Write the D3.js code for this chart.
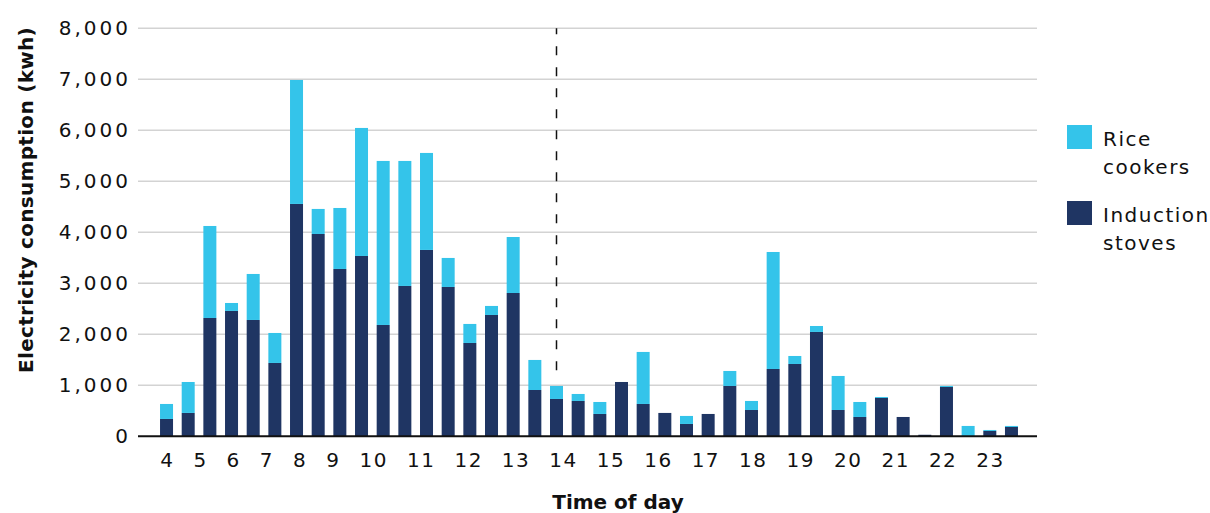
<!DOCTYPE html>
<html>
<head>
<meta charset="utf-8">
<script src="https://cdn.jsdelivr.net/npm/d3@7"></script>
<style>
  html, body { margin: 0; padding: 0; background: #fff; }
  svg { display: block; }
</style>
</head>
<body>
<script>
// ---- DATA ----
const times = ["4:00","4:30","5:00","5:30","6:00","6:30","7:00","7:30","8:00","8:30",
  "9:00","9:30","10:00","10:30","11:00","11:30","12:00","12:30","13:00","13:30",
  "14:00","14:30","15:00","15:30","16:00","16:30","17:00","17:30","18:00","18:30",
  "19:00","19:30","20:00","20:30","21:00","21:30","22:00","22:30","23:00","23:30"];
const inductionStoves = [340,458,2320,2458,2281,1438,4556,3967,3281,3536,
  2183,2948,3654,2928,1830,2379,2810,908,732,693,
  438,1065,634,458,242,438,987,516,1320,1418,
  2046,516,379,752,379,30,967,0,105,183];
const riceCookers = [294,607,1804,156,902,588,2431,491,1196,2510,
  3216,2451,1902,569,373,177,1098,589,255,137,
  235,0,1020,0,157,0,294,177,2294,157,
  117,667,294,19,0,0,20,203,19,20];
const hourLabels = ["4","5","6","7","8","9","10","11","12","13","14","15","16","17","18","19","20","21","22","23"];
const yTicks = [0,1000,2000,3000,4000,5000,6000,7000,8000];
const seriesNames = ["Rice cookers", "Induction stoves"];
const dividerTime = "13:00";
const dividerBottomValue = 1150;

// ---- CHART ----
const W = 1210, H = 513;
const colors = { "Induction stoves": "#1F3563", "Rice cookers": "#34C4EA" };
const svg = d3.select("body").append("svg").attr("width", W).attr("height", H);
svg.append("rect").attr("width", W).attr("height", H).attr("fill", "#fff");

const plotLeft = 138, plotRight = 1037;
const y = d3.scaleLinear().domain([0, 8000]).range([436.3, 28.3]);
const x = d3.scaleBand().domain(times).range([155.7, 1022.3]).paddingInner(0.4).paddingOuter(0.2);

const font = "'DejaVu Sans', sans-serif";

// gridlines
svg.append("g").selectAll("line").data(yTicks.filter(d => d > 0)).join("line")
  .attr("x1", plotLeft).attr("x2", plotRight)
  .attr("y1", d => y(d)).attr("y2", d => y(d))
  .attr("stroke", "#d3d3d3").attr("stroke-width", 1.5);

// y tick labels
const fmt = d3.format(",");
svg.append("g").selectAll("text").data(yTicks).join("text")
  .attr("x", 128 + 3).attr("y", d => y(d))
  .attr("text-anchor", "end").attr("dominant-baseline", "central")
  .attr("font-family", font).attr("font-size", 20).attr("letter-spacing", 3)
  .attr("fill", "#111").text(d => fmt(d));

// stacked bars
const rows = times.map((t, i) => ({ time: t, "Induction stoves": inductionStoves[i], "Rice cookers": riceCookers[i] }));
const stack = d3.stack().keys(["Induction stoves", "Rice cookers"])(rows);
svg.append("g").selectAll("g").data(stack).join("g")
  .attr("fill", d => colors[d.key])
  .selectAll("rect").data(d => d).join("rect")
  .attr("x", d => x(d.data.time)).attr("width", x.bandwidth())
  .attr("y", d => y(d[1])).attr("height", d => Math.max(0, y(d[0]) - y(d[1])));

// baseline
svg.append("line").attr("x1", plotLeft).attr("x2", plotRight)
  .attr("y1", y(0)).attr("y2", y(0)).attr("stroke", "#111").attr("stroke-width", 2);

// divider dashed line
const dx = x(dividerTime) + x.bandwidth() / 2;
svg.append("line").attr("x1", dx).attr("x2", dx)
  .attr("y1", y(8000)).attr("y2", y(dividerBottomValue))
  .attr("stroke", "#111").attr("stroke-width", 1.5)
  .attr("stroke-dasharray", "9,12").attr("stroke-dashoffset", 3);

// x labels (flowing with equal gaps between first and last full-hour bars)
const xl = svg.append("g");
const labs = xl.selectAll("text").data(hourLabels).join("text")
  .attr("y", 467).attr("text-anchor", "middle")
  .attr("font-family", font).attr("font-size", 20).attr("letter-spacing", 1.5)
  .attr("fill", "#111").text(d => d);
const widths = labs.nodes().map(n => n.getComputedTextLength());
const firstC = x(hourLabels[0] + ":00") + x.bandwidth() / 2;
const lastC = x(hourLabels[hourLabels.length - 1] + ":00") + x.bandwidth() / 2;
let span = 0;
for (let i = 0; i < widths.length - 1; i++) span += (widths[i] + widths[i + 1]) / 2;
const gap = (lastC - firstC - span) / (widths.length - 1);
let cx = firstC;
const centers = [cx];
for (let i = 1; i < widths.length; i++) { cx += (widths[i - 1] + widths[i]) / 2 + gap; centers.push(cx); }
labs.attr("x", (d, i) => centers[i] + 0.75);

// axis titles
svg.append("text").attr("x", 618).attr("y", 509).attr("text-anchor", "middle")
  .attr("font-family", font).attr("font-weight", "bold").attr("font-size", 20)
  .attr("fill", "#111").text("Time of day");
svg.append("text").attr("transform", "translate(33,200) rotate(-90)")
  .attr("text-anchor", "middle")
  .attr("font-family", font).attr("font-weight", "bold").attr("font-size", 20)
  .attr("letter-spacing", 0.3)
  .attr("fill", "#111").text("Electricity consumption (kwh)");

// legend
const legendLines = { "Rice cookers": ["Rice", "cookers"], "Induction stoves": ["Induction", "stoves"] };
const lg = svg.append("g").selectAll("g").data(seriesNames).join("g")
  .attr("transform", (d, i) => `translate(1067,${125 + i * 76})`);
lg.append("rect").attr("width", 25).attr("height", 24).attr("fill", d => colors[d]);
lg.append("text").attr("font-family", font).attr("font-size", 20).attr("letter-spacing", 1.5)
  .attr("fill", "#111")
  .selectAll("tspan").data(d => legendLines[d]).join("tspan")
  .attr("x", 36).attr("y", (d, i) => 21 + i * 28).text(d => d);
</script>
</body>
</html>
